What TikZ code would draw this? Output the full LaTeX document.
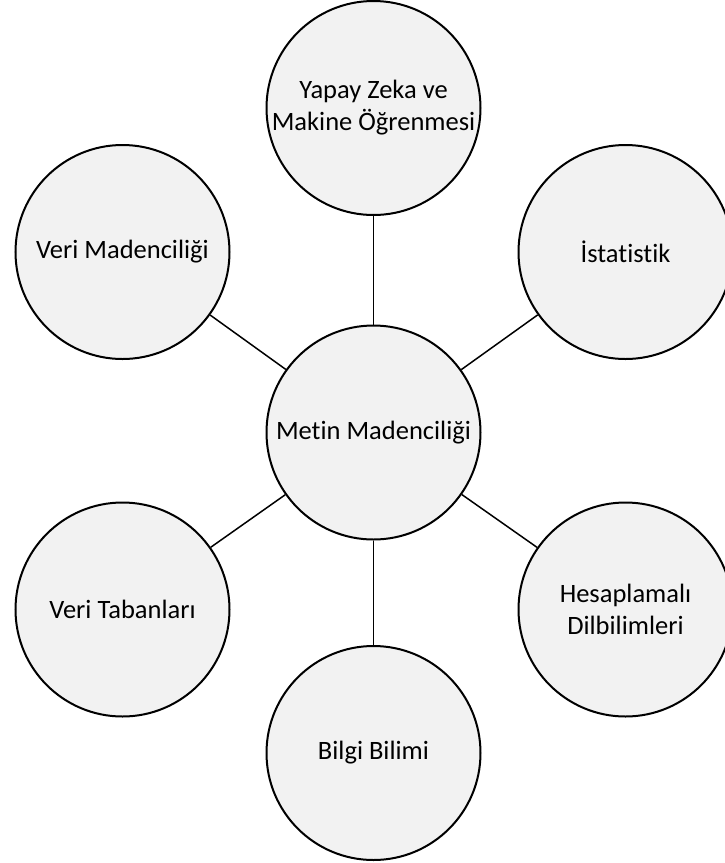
\documentclass[tikz,border=0pt]{standalone}
\usepackage{fontspec}
\setmainfont{Carlito}[Ligatures={NoCommon,TeX},RawFeature={-liga;-calt}]
\begin{document}
\begin{tikzpicture}[x=1pt,y=-1pt,
  topic/.style={circle, draw=black, line width=2pt, fill=black!5,
    minimum size=214pt, inner sep=0pt, align=center,
    font=\fontsize{26.5}{32}\selectfont},
  link/.style={draw=black, line width=1.5pt}]
  \useasboundingbox (0,0) rectangle (725,863);
  \clip (0,0) rectangle (725,863);
  % outer topics
  \node[topic] (ai)   at (373.5,108)   {Yapay Zeka ve\\Makine Öğrenmesi};
  \node[topic] (dm)   at (122.5,252)   {Veri Madenciliği};
  \node[topic] (st)   at (625.5,252)   {İstatistik};
  \node[topic] (db)   at (122.5,609.5) {Veri Tabanları};
  \node[topic] (cl)   at (625.5,609.5) {Hesaplamalı\\Dilbilimleri};
  \node[topic] (is)   at (373.5,753)   {Bilgi Bilimi};
  % central topic
  \node[topic] (tm)   at (373.5,432.5) {Metin Madenciliği};
  % spokes
  \foreach \n in {ai,dm,st,db,cl,is}
    \draw[link] (tm) -- (\n);
\end{tikzpicture}
\end{document}
